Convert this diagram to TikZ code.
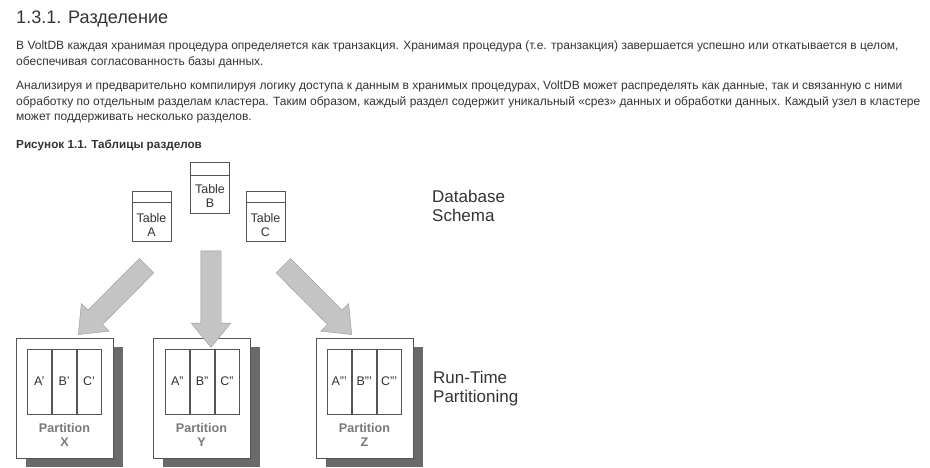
\documentclass[tikz,border=0pt]{standalone}
\usepackage{fontspec}
\setmainfont{Liberation Sans}
\usetikzlibrary{positioning,calc,shapes.arrows,shadows}

\definecolor{bodytext}{HTML}{333333}
\definecolor{boxline}{HTML}{555555}
\definecolor{arrowfill}{HTML}{C4C4C4}
\definecolor{arrowline}{HTML}{999999}
\definecolor{shadowgray}{HTML}{6A6A6A}
\definecolor{labelgray}{HTML}{7A7A7A}

% block arrow from tail to tip
\newcommand\blockarrow[2]{%
  \path let \p1=($(#2)-(#1)$) in
    node [bigarrow, minimum height={veclen(\x1,\y1)}, rotate={atan2(\y1,\x1)}] at (#2) {};
}

\begin{document}
\begin{tikzpicture}[
		x=1pt, y=-1pt,
		every node/.style={inner sep=0pt, text=bodytext},
		bodyline/.style={anchor=base west, font=\fontsize{12}{14}\selectfont},
		tablebox/.style={rectangle, draw=boxline, fill=white, minimum width=39pt, minimum height=50pt},
		tabletext/.style={anchor=north, align=center, font=\fontsize{12.5}{14}\selectfont},
		partition/.style={rectangle, draw=boxline, fill=white, minimum width=97pt, minimum height=120pt,
			drop shadow={shadow xshift=10pt, shadow yshift=-9pt, fill=shadowgray, opacity=1}},
		cell/.style={rectangle, draw=boxline, fill=white, minimum width=24.5pt, minimum height=65pt,
			font=\fontsize{12.5}{14}\selectfont},
		partlabel/.style={anchor=north, align=center, text=labelgray, font=\bfseries\fontsize{12.6}{14.5}\selectfont},
		bigtext/.style={anchor=north west, align=left, font=\fontsize{17}{19}\selectfont},
		bigarrow/.style={single arrow, draw=arrowline, fill=arrowfill, inner xsep=0pt, inner ysep=10pt,
			single arrow head extend=9.5pt, single arrow tip angle=78, anchor=tip}
	]
  \useasboundingbox (0,0) rectangle (930,467);

  % page text
  \node (title) [anchor=base west, font=\fontsize{18.1}{23}\selectfont] at (16, 23.5) {1.3.1. Разделение};
  \node (l1) [bodyline] at (16, 49.5) {В VoltDB каждая хранимая процедура определяется как транзакция. Хранимая процедура (т.е. транзакция) завершается успешно или откатывается в целом,};
  \node (l2) [bodyline] at (16, 65) {обеспечивая согласованность базы данных.};
  \node (l3) [bodyline] at (16, 89.5) {Анализируя и предварительно компилируя логику доступа к данным в хранимых процедурах, VoltDB может распределять как данные, так и связанную с ними};
  \node (l4) [bodyline] at (16, 105) {обработку по отдельным разделам кластера. Таким образом, каждый раздел содержит уникальный «срез» данных и обработки данных. Каждый узел в кластере};
  \node (l5) [bodyline] at (16, 120.5) {может поддерживать несколько разделов.};
  \node (caption) [bodyline, font=\bfseries\fontsize{11.7}{14}\selectfont] at (16, 148) {Рисунок 1.1. Таблицы разделов};

  % tables
  \node (tA) [tablebox] at (151.5, 216) {};
  \node (tB) [tablebox, minimum height=51pt] at (210, 187.5) {};
  \node (tC) [tablebox] at (265.5, 216) {};
  \draw [boxline] ([yshift=-11pt]tA.north west) -- ([yshift=-11pt]tA.north east);
  \draw [boxline] ([yshift=-13pt]tB.north west) -- ([yshift=-13pt]tB.north east);
  \draw [boxline] ([yshift=-11pt]tC.north west) -- ([yshift=-11pt]tC.north east);
  \node (tA_text) [tabletext] at ($(tA.north)+(0,22)$) {Table\\A};
  \node (tB_text) [tabletext] at ($(tB.north)+(0,22)$) {Table\\B};
  \node (tC_text) [tabletext] at ($(tC.north)+(0,22)$) {Table\\C};
  \node (schema) [bigtext] at (432, 189.5) {Database\\Schema};

  % partitions
  \node (pX) [partition] at (64.5, 398) {};
  \node (pY) [partition] at (201.5, 398) {};
  \node (pZ) [partition] at (364.5, 398) {};
  \node (xA) [cell, anchor=north west] at ($(pX.north west)+(11,11)$) {A'};
  \node (xB) [cell, right=0pt of xA] {B'};
  \node (xC) [cell, right=0pt of xB] {C'};
  \node (yA) [cell, anchor=north west] at ($(pY.north west)+(12,11)$) {A''};
  \node (yB) [cell, right=0pt of yA] {B''};
  \node (yC) [cell, right=0pt of yB] {C''};
  \node (zA) [cell, anchor=north west] at ($(pZ.north west)+(11,11)$) {A'''};
  \node (zB) [cell, right=0pt of zA] {B'''};
  \node (zC) [cell, right=0pt of zB] {C'''};
  \node (pX_label) [partlabel] at ($(pX.south)+(0,-35.5)$) {Partition\\X};
  \node (pY_label) [partlabel] at ($(pY.south)+(0,-35.5)$) {Partition\\Y};
  \node (pZ_label) [partlabel] at ($(pZ.south)+(0,-35.5)$) {Partition\\Z};
  \node (runtime) [bigtext] at (433, 371) {Run-Time\\Partitioning};

  % arrows
  \coordinate (aX_tail) at ($(tA.south)+(-5,24.5)$);
  \coordinate (aX_tip) at ($(pX.north)+(13.5,-3)$);
  \coordinate (aY_tail) at ($(tB.south)+(1,38)$);
  \coordinate (aY_tip) at ($(pY.north)+(9.5,10)$);
  \coordinate (aZ_tail) at ($(tC.south)+(18,24.5)$);
  \coordinate (aZ_tip) at ($(pZ.north)+(-12.5,-3)$);
  \blockarrow{aX_tail}{aX_tip}
  \blockarrow{aY_tail}{aY_tip}
  \blockarrow{aZ_tail}{aZ_tip}
\end{tikzpicture}
\end{document}
